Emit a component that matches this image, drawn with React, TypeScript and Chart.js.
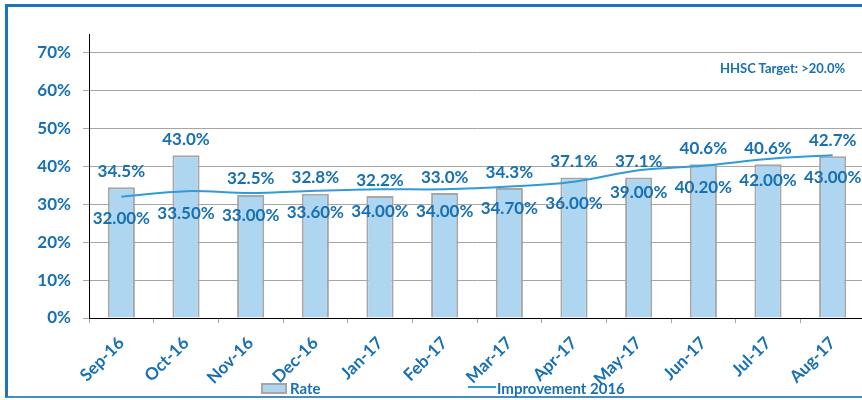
import React, { useEffect, useRef } from 'react';
import { Chart, registerables } from 'chart.js';

Chart.register(...registerables);

const months = ['Sep-16', 'Oct-16', 'Nov-16', 'Dec-16', 'Jan-17', 'Feb-17', 'Mar-17', 'Apr-17', 'May-17', 'Jun-17', 'Jul-17', 'Aug-17'];
const rateValues = [34.5, 43.0, 32.5, 32.8, 32.2, 33.0, 34.3, 37.1, 37.1, 40.6, 40.6, 42.7];
const improvementValues = [32.0, 33.5, 33.0, 33.6, 34.0, 34.0, 34.7, 36.0, 39.0, 40.2, 42.0, 43.0];
const yMin = 0;
const yMax = 75;
const yStep = 10;
const targetText = 'HHSC Target: >20.0%';

const BLUE_TEXT = '#1770b3';
const BAR_FILL = '#aed6f1';
const BAR_BORDER = '#a6a6a6';
const LINE_COLOR = '#2f9bd8';
const FONT = 'Lato, "Open Sans", sans-serif';

const valueLabelPlugin = {
  id: 'valueLabels',
  afterDatasetsDraw(chart: any) {
    const ctx = chart.ctx;
    ctx.save();
    ctx.font = `bold 17px ${FONT}`;
    ctx.fillStyle = BLUE_TEXT;
    ctx.textAlign = 'center';
    ctx.textBaseline = 'middle';
    const barMeta = chart.getDatasetMeta(0);
    barMeta.data.forEach((el: any, i: number) => {
      ctx.fillText(rateValues[i].toFixed(1) + '%', el.x, el.y - 16);
    });
    const lineMeta = chart.getDatasetMeta(1);
    lineMeta.data.forEach((el: any, i: number) => {
      ctx.fillText(improvementValues[i].toFixed(2) + '%', el.x, el.y + 22);
    });
    ctx.restore();
  },
};

export default function App() {
  const canvasRef = useRef<HTMLCanvasElement | null>(null);

  useEffect(() => {
    if (!canvasRef.current) return;
    const chart = new Chart(canvasRef.current, {
      type: 'bar',
      data: {
        labels: months,
        datasets: [
          {
            type: 'bar',
            label: 'Rate',
            data: rateValues,
            backgroundColor: BAR_FILL,
            borderColor: BAR_BORDER,
            borderWidth: 2,
            barPercentage: 0.42,
            categoryPercentage: 1,
            order: 1,
          },
          {
            type: 'line',
            label: 'Improvement 2016',
            data: improvementValues,
            borderColor: LINE_COLOR,
            borderWidth: 2,
            pointRadius: 0,
            tension: 0.35,
            fill: false,
            order: 0,
          },
        ],
      } as any,
      options: {
        responsive: false,
        animation: false,
        layout: { padding: { left: 0, right: 5, top: 34, bottom: 0 } },
        plugins: {
          legend: { display: false },
          tooltip: { enabled: false },
        },
        scales: {
          x: {
            offset: true,
            grid: {
              offset: true,
              drawOnChartArea: false,
              drawTicks: true,
              tickLength: 5,
              color: BAR_BORDER,
            },
            border: { display: true, color: '#000000', width: 1 },
            ticks: {
              autoSkip: false,
              maxRotation: 45,
              minRotation: 45,
              padding: 10,
              color: BLUE_TEXT,
              font: { family: FONT, size: 17, weight: 'bold' },
            },
            afterFit: (s: any) => {
              s.height = 82;
              s.paddingLeft = 0;
              s.paddingRight = 0;
            },
          },
          y: {
            min: yMin,
            max: yMax,
            grid: {
              color: BAR_BORDER,
              drawTicks: true,
              tickLength: 6,
            },
            border: { display: true, color: '#000000', width: 1 },
            ticks: {
              stepSize: yStep,
              includeBounds: false,
              padding: 12,
              color: BLUE_TEXT,
              font: { family: FONT, size: 17, weight: 'bold' },
              callback: (v: any) => v + '%',
            },
            afterFit: (s: any) => {
              s.width = 89;
            },
          },
        },
      } as any,
      plugins: [valueLabelPlugin],
    });
    return () => chart.destroy();
  }, []);

  return (
    <div style={{ position: 'absolute', left: 0, top: 0, width: 862, height: 400, overflow: 'hidden', background: '#ffffff' }}>
      <canvas ref={canvasRef} width={870} height={400} style={{ position: 'absolute', left: 0, top: 0 }} />
      <div
        style={{
          position: 'absolute',
          left: 5,
          top: 4,
          width: 900,
          height: 394,
          boxSizing: 'border-box',
          borderTop: '3px solid #1a75bb',
          borderLeft: '3px solid #1a75bb',
          borderBottom: '2px solid #4a8cc2',
          pointerEvents: 'none',
        }}
      />
      <div style={{ position: 'absolute', left: 720, top: 60, font: `bold 13px ${FONT}`, color: BLUE_TEXT, whiteSpace: 'nowrap' }}>
        {targetText}
      </div>
      <div
        style={{
          position: 'absolute',
          left: 261,
          top: 383,
          width: 26,
          height: 11,
          boxSizing: 'border-box',
          border: `2px solid ${BAR_BORDER}`,
          background: BAR_FILL,
        }}
      />
      <div style={{ position: 'absolute', left: 290, top: 379, font: `bold 15px ${FONT}`, color: BLUE_TEXT, whiteSpace: 'nowrap' }}>Rate</div>
      <div style={{ position: 'absolute', left: 468, top: 386, width: 28, height: 2, background: LINE_COLOR }} />
      <div style={{ position: 'absolute', left: 497, top: 379, font: `bold 15px ${FONT}`, color: BLUE_TEXT, whiteSpace: 'nowrap' }}>Improvement 2016</div>
    </div>
  );
}
